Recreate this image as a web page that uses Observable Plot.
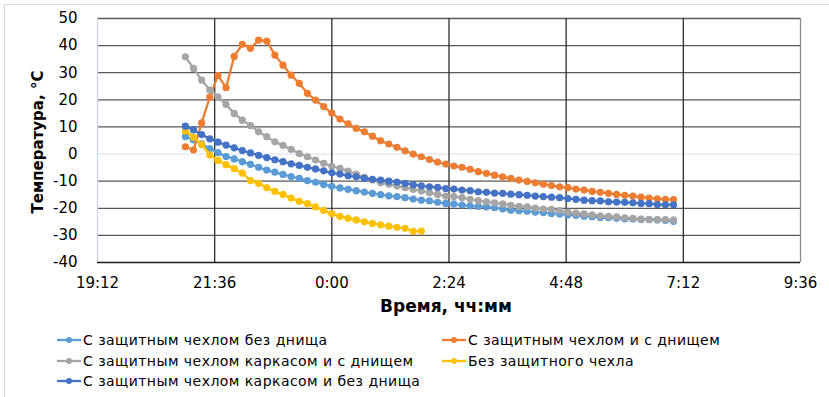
<!DOCTYPE html>
<html>
<head>
<meta charset="utf-8">
<script src="https://cdn.jsdelivr.net/npm/d3@7"></script>
<script src="https://cdn.jsdelivr.net/npm/@observablehq/plot@0.6"></script>
<style>
  body { margin: 0; background: #fff; }
  #wrap { position: relative; width: 829px; height: 397px; overflow: hidden; background: #fff; }
  #frame { position: absolute; left: 4px; top: 4px; width: 840px; height: 400px; border: 1px solid #d9d9d9; box-sizing: border-box; }
  #chart { position: absolute; left: 0; top: 0; }
  .ylab { position: absolute; left: 38px; top: 142px; transform: translate(-50%, -50%) rotate(-90deg); white-space: nowrap;
          font: bold 15px "DejaVu Sans", sans-serif; color: #000; }
  .xlab { position: absolute; left: 446px; top: 306px; transform: translate(-50%, -50%); white-space: nowrap;
          font: bold 17px "DejaVu Sans", sans-serif; color: #000; }
  .leg { position: absolute; display: flex; align-items: center; white-space: nowrap;
         font: 14px "DejaVu Sans", sans-serif; letter-spacing: 0.45px; color: #000; transform: translateY(-50%); }
  .leg svg { margin-right: 2px; }
</style>
</head>
<body>
<div id="wrap">
  <div id="frame"></div>
  <div id="chart"></div>
  <div class="ylab">Температура, °C</div>
  <div class="xlab">Время, чч:мм</div>
  <div id="legend"></div>
</div>
<script>
const seriesNames = [
  "С защитным чехлом без днища",
  "С защитным чехлом и с днищем",
  "С защитным чехлом каркасом и с днищем",
  "Без защитного чехла",
  "С защитным чехлом каркасом и без днища"
];
const seriesColors = ["#5B9BD5", "#ED7D31", "#A5A5A5", "#FFC000", "#4472C4"];

const xTickLabels = ["19:12", "21:36", "0:00", "2:24", "4:48", "7:12", "9:36"];
const yTicks = [-40, -30, -20, -10, 0, 10, 20, 30, 40, 50];

const times = [
  "21:00","21:10","21:20","21:30","21:40","21:50","22:00","22:10","22:20","22:30",
  "22:40","22:50","23:00","23:10","23:20","23:30","23:40","23:50","0:00","0:10",
  "0:20","0:30","0:40","0:50","1:00","1:10","1:20","1:30","1:40","1:50",
  "2:00","2:10","2:20","2:30","2:40","2:50","3:00","3:10","3:20","3:30",
  "3:40","3:50","4:00","4:10","4:20","4:30","4:40","4:50","5:00","5:10",
  "5:20","5:30","5:40","5:50","6:00","6:10","6:20","6:30","6:40","6:50","7:00"
];

const lightBlue = [
  6.5, 5.2, 3.8, 2.0, 0.5, -0.9, -1.8, -2.8, -3.8, -4.9,
  -5.9, -6.7, -7.5, -8.3, -9.0, -9.8, -10.4, -11.2, -11.9, -12.5,
  -13.0, -13.5, -14.0, -14.5, -15.0, -15.4, -15.7, -16.1, -16.6, -17.0,
  -17.3, -17.8, -18.2, -18.4, -18.8, -19.1, -19.3, -19.5, -19.8, -20.3,
  -20.7, -20.9, -21.1, -21.4, -21.6, -21.9, -22.1, -22.4, -22.6, -22.9,
  -23.1, -23.4, -23.5, -23.7, -23.9, -24.0, -24.1, -24.2, -24.3, -24.5, -24.8
];
const orange = [
  2.7, 1.5, 11.5, 21.0, 29.0, 24.5, 36.0, 40.5, 39.0, 42.0,
  41.7, 36.5, 32.8, 29.1, 26.1, 22.4, 19.9, 17.5, 15.1, 12.9,
  11.1, 9.5, 8.2, 6.6, 4.9, 3.7, 2.5, 1.2, 0.0, -1.0,
  -2.0, -3.0, -3.7, -4.4, -4.9, -5.6, -6.5, -7.1, -7.8, -8.4,
  -9.0, -9.6, -10.1, -10.6, -11.1, -11.6, -12.1, -12.4, -12.9, -13.3,
  -13.8, -14.1, -14.5, -14.9, -15.2, -15.5, -15.9, -16.2, -16.5, -16.7, -16.8
];
const gray = [
  35.9, 31.6, 27.3, 23.6, 21.1, 18.3, 15.0, 12.5, 10.5, 8.2,
  6.4, 4.5, 3.2, 1.7, 0.2, -1.0, -2.2, -3.4, -4.5, -5.3,
  -6.3, -7.4, -8.6, -9.6, -10.6, -11.1, -11.8, -12.4, -13.0, -13.6,
  -14.3, -14.9, -15.5, -15.7, -16.1, -16.7, -17.2, -17.6, -18.0, -18.4,
  -18.9, -19.3, -19.5, -19.9, -20.3, -20.4, -20.9, -21.4, -21.8, -22.1,
  -22.4, -22.8, -23.0, -23.2, -23.5, -23.7, -24.0, -24.1, -24.2, -24.2, -24.3
];
const yellow = [
  8.5, 6.2, 3.5, -0.3, -2.3, -3.9, -5.4, -7.0, -9.8, -10.8,
  -12.4, -13.8, -14.9, -16.2, -17.4, -18.3, -19.5, -20.8, -22.0, -23.0,
  -23.7, -24.3, -25.0, -25.6, -26.1, -26.6, -27.0, -27.4, -28.5, -28.4
];
const darkBlue = [
  10.3, 8.9, 7.2, 5.6, 4.4, 3.3, 2.3, 1.3, 0.4, -0.5,
  -1.3, -2.1, -2.8, -3.6, -4.2, -4.9, -5.5, -6.2, -6.9, -7.4,
  -8.0, -8.4, -9.0, -9.3, -9.6, -10.0, -10.3, -10.8, -11.3, -11.7,
  -12.1, -12.3, -12.7, -12.9, -13.3, -13.5, -13.9, -14.1, -14.4, -14.5,
  -14.8, -15.0, -15.2, -15.5, -15.7, -15.9, -16.1, -16.4, -16.7, -17.0,
  -17.2, -17.3, -17.6, -17.7, -17.8, -18.0, -18.2, -18.3, -18.6, -18.7, -18.7
];

const seriesValues = [lightBlue, orange, gray, yellow, darkBlue];

function toDate(s) {
  const [h, m] = s.split(":").map(Number);
  return new Date(Date.UTC(2000, 0, h < 12 ? 2 : 1, h, m));
}
const fmt = d => `${d.getUTCHours()}:${String(d.getUTCMinutes()).padStart(2, "0")}`;

const xTicks = xTickLabels.map(toDate);
const seriesData = seriesNames.map((name, k) =>
  seriesValues[k].map((v, i) => ({series: name, time: toDate(times[i]), value: v}))
);

const marks = [
  Plot.ruleY(yTicks.filter(d => d !== 0 && d !== -40), {stroke: "#575757", strokeWidth: 1.3}),
  Plot.ruleY([0], {stroke: "#e4e6ef", strokeWidth: 1.3}),
  Plot.ruleX(xTicks.slice(1, -1), {stroke: "#2e2e2e", strokeWidth: 1.3}),
  Plot.ruleX(xTicks.slice(-1), {stroke: "#8c8c8c", strokeWidth: 1.3}),
  Plot.ruleX(xTicks.slice(0, 1), {stroke: "#c9d3e6", strokeWidth: 1.3}),
  Plot.ruleY([-40], {stroke: "#1a1a1a", strokeWidth: 1.3}),
  Plot.axisY({ticks: yTicks, tickFormat: d => String(d), tickSize: 0, tickPadding: 20, label: null,
              fontSize: 15, fontFamily: "DejaVu Sans"}),
  Plot.axisX({ticks: xTicks, tickFormat: fmt, tickSize: 0, tickPadding: 15, label: null,
              fontSize: 15, fontFamily: "DejaVu Sans"})
];
seriesData.forEach((rows) => {
  marks.push(Plot.line(rows, {x: "time", y: "value", stroke: "series", strokeWidth: 2.3}));
  marks.push(Plot.dot(rows, {x: "time", y: "value", fill: "series", r: 3.6}));
});

const chart = Plot.plot({
  width: 829,
  height: 300,
  marginTop: 18,
  marginLeft: 97,
  marginRight: 29,
  marginBottom: 38,
  style: {background: "transparent", color: "#000", fontFamily: "DejaVu Sans"},
  x: {type: "utc", domain: [xTicks[0], xTicks[xTicks.length - 1]]},
  y: {domain: [-40, 50]},
  color: {domain: seriesNames, range: seriesColors},
  marks
});
document.getElementById("chart").appendChild(chart);

// legend
const legendPos = [
  [57, 340], [442, 340],
  [57, 361], [442, 361],
  [57, 381]
];
const legend = document.getElementById("legend");
seriesNames.forEach((name, k) => {
  const div = document.createElement("div");
  div.className = "leg";
  div.style.left = legendPos[k][0] + "px";
  div.style.top = legendPos[k][1] + "px";
  const c = seriesColors[k];
  div.innerHTML = `<svg width="24" height="10"><line x1="0" x2="24" y1="5" y2="5" stroke="${c}" stroke-width="2.3"/><circle cx="12" cy="5" r="3" fill="${c}"/></svg><span>${name}</span>`;
  legend.appendChild(div);
});
</script>
</body>
</html>
